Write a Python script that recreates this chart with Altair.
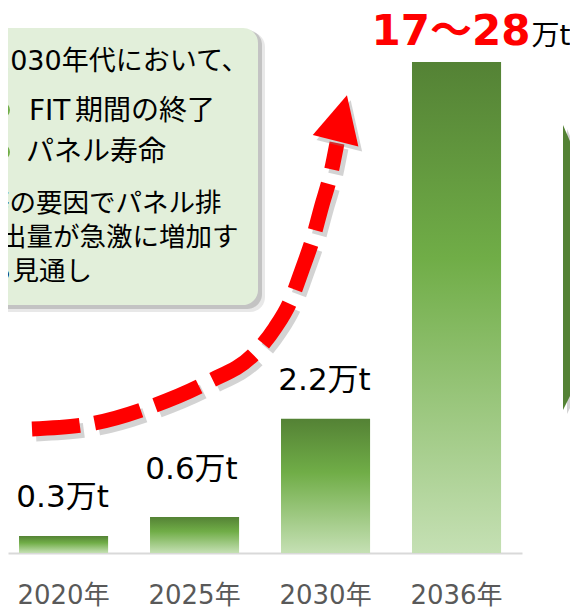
import altair as alt
import pandas as pd

FONT = "DejaVu Sans, Noto Sans CJK JP"

# ---- data ----
years = ["2020年", "2025年", "2030年", "2036年"]
bar_heights = [0.28, 0.59, 2.2, 8.05]          # drawn bar height (万t scale; 2036 bar is illustrative)
value_labels = ["0.3万t", "0.6万t", "2.2万t", ""]
range_label = "17～28"
unit_label = "万t"

callout_title = "2030年代において、"
callout_bullet1 = ["FIT", "期間の終了"]
callout_bullet2 = "パネル寿命"
callout_lines = ["等の要因でパネル排", "出量が急激に増加す", "る見通し"]

# decorative growth arrow path (pixel space of the overlay)
arrow_x = [24, 87, 142, 200, 247, 267, 282, 294, 305, 314, 322, 329]
arrow_y = [421, 415, 399, 374, 345, 320, 294, 262, 230, 197, 169, 135]

# right-edge chevron outline (pixel space of the overlay)
chev_x = [555, 570]
chev_top = [117, 152]
chev_bot = [402, 372]

W, H = 562, 545

df = pd.DataFrame({"year": years, "h": bar_heights, "label": value_labels})
one = pd.DataFrame({"k": [0]})
arrow_df = pd.DataFrame({"x": arrow_x, "y": arrow_y, "o": list(range(len(arrow_x)))})
chev_df = pd.DataFrame({"x": chev_x, "t": chev_top, "b": chev_bot})

xsc = alt.Scale(type="band", domain=years, range=[0, 514], paddingInner=0.32,
                paddingOuter=0.122, align=0.345)
ysc = alt.Scale(domain=[0, H / 61.0], nice=False, zero=True)
px = alt.Scale(domain=[0, 570], range=[0, 570], nice=False, zero=False)
py = alt.Scale(domain=[0, H], range=[0, H], nice=False, zero=False)

grad = alt.Gradient(
    gradient="linear",
    stops=[
        alt.GradientStop(color="#548235", offset=0),
        alt.GradientStop(color="#70ad47", offset=0.4),
        alt.GradientStop(color="#c5e0b4", offset=1),
    ],
    x1=0, x2=0, y1=0, y2=1,
)

bars = alt.Chart(df).mark_bar(color=grad).encode(
    x=alt.X("year:N", scale=xsc, sort=years,
            axis=alt.Axis(title=None, labelAngle=0, ticks=False, tickSize=0, grid=False,
                          domainColor="#d9d9d9", domainWidth=2,
                          labelFontSize=26, labelColor="#595959", labelFont=FONT,
                          labelPadding=42, labelBaseline="middle")),
    y=alt.Y("h:Q", scale=ysc, axis=None),
)

def xenc():
    return alt.X("year:N", scale=xsc, sort=years, axis=None)

def yenc():
    return alt.Y("h:Q", scale=ysc, axis=None)

lab_a = alt.Chart(df).transform_filter(
    "datum.label != '' && datum.year != '2025年'"
).mark_text(font=FONT, fontSize=31, color="black", baseline="middle", dy=-38, dx=-1).encode(
    x=xenc(), y=yenc(), text="label:N")
lab_b = alt.Chart(df).transform_filter(
    "datum.year == '2025年'"
).mark_text(font=FONT, fontSize=31, color="black", baseline="middle", dy=-47, dx=-3).encode(
    x=xenc(), y=yenc(), text="label:N")

big_df = df[df.year == "2036年"].assign(r=range_label, u=unit_label)
lab_red = alt.Chart(big_df).mark_text(font=FONT, fontSize=42, fontWeight="bold", color="#ff0000",
                                      align="right", baseline="alphabetic", dx=74, dy=-17).encode(
    x=xenc(), y=yenc(), text="r:N")
lab_unit = alt.Chart(big_df).mark_text(font=FONT, fontSize=28, color="black",
                                       align="left", baseline="alphabetic", dx=75, dy=-17).encode(
    x=xenc(), y=yenc(), text="u:N")

# callout box
box_shadow2 = alt.Chart(one).mark_rect(cornerRadius=15, color="#7f7f7f", opacity=0.18).encode(
    x=alt.value(-28), x2=alt.value(257), y=alt.value(24), y2=alt.value(304))
box_shadow = alt.Chart(one).mark_rect(cornerRadius=15, color="#7f7f7f", opacity=0.35).encode(
    x=alt.value(-28), x2=alt.value(254), y=alt.value(22), y2=alt.value(301))
box = alt.Chart(one).mark_rect(cornerRadius=15, color="#e2efda").encode(
    x=alt.value(-28), x2=alt.value(250), y=alt.value(20), y2=alt.value(297))

def txt(s, x, y, size):
    return alt.Chart(one).mark_text(font=FONT, fontSize=size, color="black", align="left",
                                    baseline="middle").encode(
        x=alt.value(x), y=alt.value(y), text=alt.value(s))

t_title = txt(callout_title, -15, 53.5, 27)
t_b1a = txt(callout_bullet1[0], 21, 104, 28)
t_b1b = txt(callout_bullet1[1], 67, 104, 28)
t_b2 = txt(callout_bullet2, 18, 145, 28)
t_l1 = txt(callout_lines[0], -25, 196, 26.5)
t_l2 = txt(callout_lines[1], -8, 230, 26.5)
t_l3 = txt(callout_lines[2], -22, 264, 26.5)
dot1 = alt.Chart(one).mark_circle(size=254, color="#70ad47", opacity=1).encode(
    x=alt.value(-6), y=alt.value(102))
dot2 = alt.Chart(one).mark_circle(size=254, color="#70ad47", opacity=1).encode(
    x=alt.value(-6), y=alt.value(144))

# arrow
arrow_shadow = alt.Chart(arrow_df).transform_calculate(
    xs="datum.x + 4", ys="datum.y + 5"
).mark_line(color="#808080", opacity=0.35, strokeWidth=15, strokeDash=[48, 15],
            interpolate="monotone", strokeCap="butt").encode(
    x=alt.X("xs:Q", scale=px, axis=None), y=alt.Y("ys:Q", scale=py, axis=None), order="o:Q")
arrow = alt.Chart(arrow_df).mark_line(color="#ff0000", strokeWidth=15, strokeDash=[48, 15],
                                      interpolate="monotone", strokeCap="butt").encode(
    x=alt.X("x:Q", scale=px, axis=None), y=alt.Y("y:Q", scale=py, axis=None), order="o:Q")
TRI = "M0,-1L1,1L-1,1Z"
head_shadow = alt.Chart(one).mark_point(shape=TRI, filled=True, size=2209, angle=14,
                                        color="#808080", opacity=0.35).encode(
    x=alt.value(337), y=alt.value(115))
head = alt.Chart(one).mark_point(shape=TRI, filled=True, size=2209, angle=14,
                                 color="#ff0000", opacity=1).encode(
    x=alt.value(333.25), y=alt.value(110))

# chevron at right edge
chev_shadow = alt.Chart(chev_df).transform_calculate(
    xs="datum.x + 4", ts="datum.t + 4", bs="datum.b + 4"
).mark_area(color="#808080", opacity=0.35).encode(
    x=alt.X("xs:Q", scale=px, axis=None), y=alt.Y("ts:Q", scale=py, axis=None),
    y2="bs:Q")
chev = alt.Chart(chev_df).mark_area(color="#548235", opacity=1).encode(
    x=alt.X("x:Q", scale=px, axis=None), y=alt.Y("t:Q", scale=py, axis=None), y2="b:Q")

chart = alt.layer(
    box_shadow2, box_shadow, box, dot1, dot2, t_title, t_b1a, t_b1b, t_b2, t_l1, t_l2, t_l3,
    bars, lab_a, lab_b, lab_red, lab_unit,
    chev_shadow, chev,
    arrow_shadow, arrow, head_shadow, head,
).resolve_scale(x="independent", y="independent").properties(
    width=W, height=H, autosize="none",
    padding={"left": 0, "top": 0, "right": 0, "bottom": 55},
    background="white",
).configure_view(stroke=None)

chart.save("out.html", embed_options={"renderer": "svg", "actions": False})
